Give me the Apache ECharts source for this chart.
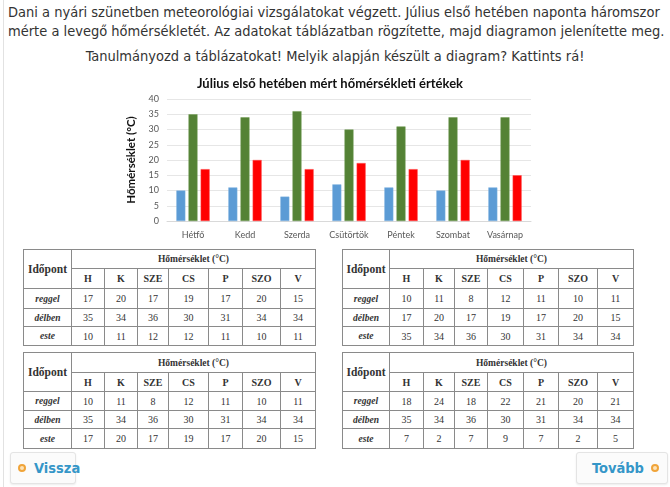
<!DOCTYPE html>
<html>
<head>
<meta charset="utf-8">
<script src="https://cdn.jsdelivr.net/npm/echarts@6/dist/echarts.min.js"></script>
<style>
  html,body{margin:0;padding:0;background:#fff;}
  body{width:670px;height:487px;position:relative;overflow:hidden;font-family:"Liberation Sans Narrow","DejaVu Sans Condensed","Liberation Sans",sans-serif;}
  .vline{position:absolute;left:3px;top:0;width:1px;height:487px;background:#e2e2e2;}
  .txt{position:absolute;color:#333;font-size:14.5px;line-height:19px;white-space:nowrap;}
  #chart{position:absolute;left:100px;top:65px;width:460px;height:182px;}
  table.t{position:absolute;border-collapse:collapse;font-family:"Liberation Serif","DejaVu Serif",serif;color:#333;table-layout:fixed;}
  table.t td{border:1px solid #8a8a8a;text-align:center;padding:0;font-size:10px;}
  table.t td.ido{font-weight:bold;font-size:11.5px;}
  table.t td.hdr{font-weight:bold;font-size:9.5px;}
  table.t td.day{font-weight:bold;font-size:10px;}
  table.t td.lab{font-weight:bold;font-style:italic;font-size:9.5px;}
  .btn{position:absolute;top:452px;height:30px;border:1px solid #e4e4e4;border-radius:3px;background:#fbfbfb;box-shadow:0 1px 2px rgba(0,0,0,0.08);color:#3596c8;font-weight:bold;font-size:14.5px;line-height:30px;}
  .dot{position:absolute;top:11px;width:4px;height:4px;border:2px solid #f0a43a;border-radius:50%;background:#fde3b8;}
</style>
</head>
<body>
<div class="vline"></div>
<div class="txt" style="left:8px;top:3px;">Dani a nyári szünetben meteorológiai vizsgálatokat végzett. Július első hetében naponta háromszor</div>
<div class="txt" style="left:8px;top:22px;">mérte a levegő hőmérsékletét. Az adatokat táblázatban rögzítette, majd diagramon jelenítette meg.</div>
<div class="txt" style="left:0;width:670px;text-align:center;top:47px;">Tanulmányozd a táblázatokat! Melyik alapján készült a diagram? Kattints rá!</div>
<div id="chart"></div>
<div id="tables"></div>
<div class="btn" style="left:10px;width:64px;"><span class="dot" style="left:7px;"></span><span style="position:absolute;left:23px;">Vissza</span></div>
<div class="btn" style="left:576px;width:90px;"><span style="position:absolute;left:15px;">Tovább</span><span class="dot" style="left:74px;"></span></div>
<script>
// Chart data
var categories = ["Hétfő","Kedd","Szerda","Csütörtök","Péntek","Szombat","Vasárnap"];
var morning = [10,11,8,12,11,10,11];
var noon = [35,34,36,30,31,34,34];
var evening = [17,20,17,19,17,20,15];

// Table data
var dayAbbr = ["H","K","SZE","CS","P","SZO","V"];
var rowLabels = ["reggel","délben","este"];
var table1 = [[17,20,17,19,17,20,15],[35,34,36,30,31,34,34],[10,11,12,12,11,10,11]];
var table2 = [[10,11,8,12,11,10,11],[17,20,17,19,17,20,15],[35,34,36,30,31,34,34]];
var table3 = [[10,11,8,12,11,10,11],[35,34,36,30,31,34,34],[17,20,17,19,17,20,15]];
var table4 = [[18,24,18,22,21,20,21],[35,34,36,30,31,34,34],[7,2,7,9,7,2,5]];

function buildTable(data, left, top, widths, rowH){
  var t = document.createElement('table');
  t.className = 't';
  t.style.left = left + 'px';
  t.style.top = top + 'px';
  var total = widths.reduce(function(a,b){return a+b;},0);
  t.style.width = total + 'px';
  var cg = '<colgroup>' + widths.map(function(w){return '<col style="width:'+w+'px">';}).join('') + '</colgroup>';
  var h = cg;
  h += '<tr style="height:'+rowH[0]+'px"><td class="ido" rowspan="2">Időpont</td><td class="hdr" colspan="7">Hőmérséklet (°C)</td></tr>';
  h += '<tr style="height:'+rowH[1]+'px">' + dayAbbr.map(function(d){return '<td class="day">'+d+'</td>';}).join('') + '</tr>';
  for (var i=0;i<3;i++){
    h += '<tr style="height:'+rowH[2+i]+'px"><td class="lab">'+rowLabels[i]+'</td>' + data[i].map(function(v){return '<td>'+v+'</td>';}).join('') + '</tr>';
  }
  t.innerHTML = h;
  document.getElementById('tables').appendChild(t);
}
var wL = [48,33,33,31,40,34,38,35];
var wR = [47,34,31,33,36,35,39,36];
buildTable(table1, 23, 249, wL, [19,20,20,18,19]);
buildTable(table2, 342, 249, wR, [19,20,20,18,19]);
buildTable(table3, 23, 352, wL, [20,19,19,18,20]);
buildTable(table4, 342, 352, wR, [20,19,19,18,20]);

var chart = echarts.init(document.getElementById('chart'), null, {renderer:'canvas'});
var cFont = 'Lato, "Open Sans", sans-serif';
chart.setOption({
  animation:false,
  title:{text:'Július első hetében mért hőmérsékleti értékek',left:'center',top:7,
    textStyle:{fontSize:13,fontWeight:'bold',color:'#111',fontFamily:cFont}},
  grid:{left:67,right:29,top:34,bottom:26,containLabel:false},
  xAxis:{type:'category',data:categories,
    axisLine:{lineStyle:{color:'#d9d9d9'}},axisTick:{show:false},
    axisLabel:{color:'#595959',fontSize:9,margin:10,fontFamily:cFont}},
  yAxis:{type:'value',min:0,max:40,interval:5,
    name:'Hőmérséklet (°C)',nameLocation:'middle',nameGap:27,
    nameTextStyle:{fontSize:11.5,fontWeight:'bold',color:'#111',fontFamily:cFont},
    axisLine:{show:false},axisTick:{show:false},
    axisLabel:{color:'#595959',fontSize:9,margin:8,fontFamily:cFont},
    splitLine:{lineStyle:{color:'#e6e6e6'}}},
  series:[
    {type:'bar',name:'reggel',data:morning,barWidth:9,barGap:'35%',itemStyle:{color:'#5B9BD5',borderColor:'#7fb2e0',borderWidth:0.5}},
    {type:'bar',name:'délben',data:noon,barWidth:9,barGap:'35%',itemStyle:{color:'#548235',borderColor:'#6e9a50',borderWidth:0.5}},
    {type:'bar',name:'este',data:evening,barWidth:9,barGap:'35%',itemStyle:{color:'#FF0000',borderColor:'#ff4a4a',borderWidth:0.5}}
  ]
});
</script>
</body>
</html>
